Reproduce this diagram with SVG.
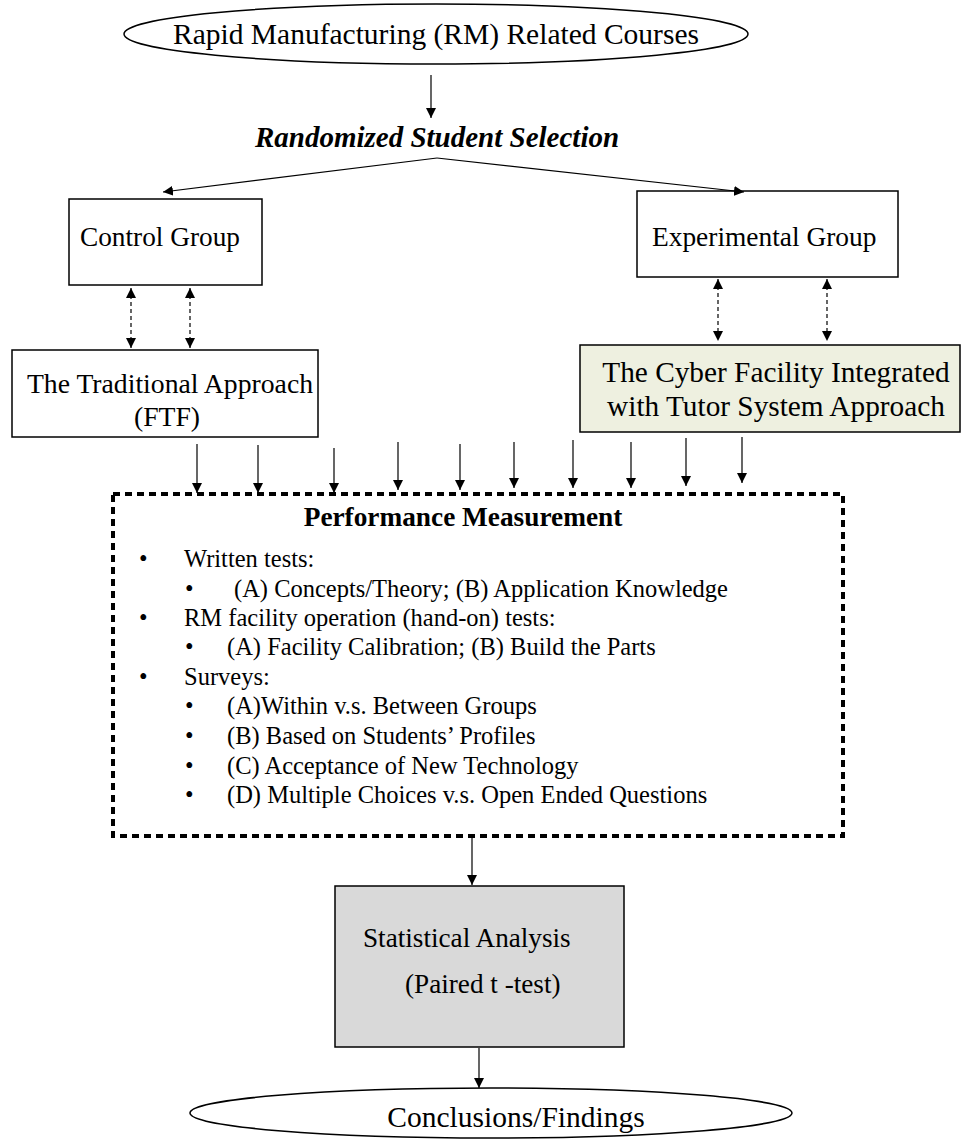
<svg xmlns="http://www.w3.org/2000/svg" width="961" height="1140" viewBox="0 0 961 1140">
<defs>
<style>
.t{font-family:"Liberation Serif","Times New Roman",serif;fill:#000}
.box{fill:#fff;stroke:#000;stroke-width:1.5}
.ln{stroke:#000;stroke-width:1.2;fill:none}
.dl{stroke:#000;stroke-width:1.2;fill:none;stroke-dasharray:4 3}
</style>
<marker id="ah" viewBox="0 0 10 10" refX="10" refY="5" markerWidth="10" markerHeight="10" markerUnits="userSpaceOnUse" orient="auto-start-reverse">
<path d="M0,0 L10,5 L0,10 z" fill="#000"/>
</marker>
</defs>
<rect width="961" height="1140" fill="#fff"/>
<g id="n-courses">
<ellipse cx="436" cy="34" rx="312" ry="30" class="box"/>
<text x="436" y="44" class="t" font-size="29.5" text-anchor="middle">Rapid Manufacturing (RM) Related Courses</text>
</g>
<g id="n-random">
<text x="437" y="147" class="t" font-size="29" font-weight="bold" font-style="italic" text-anchor="middle">Randomized Student Selection</text>
</g>
<g id="n-control">
<rect x="69" y="199" width="193" height="86" class="box"/>
<text x="80" y="246" class="t" font-size="27.3">Control Group</text>
</g>
<g id="n-experimental">
<rect x="637" y="191" width="261" height="86" class="box"/>
<text x="652" y="246" class="t" font-size="27.4">Experimental Group</text>
</g>
<g id="n-traditional">
<rect x="12" y="350" width="306" height="87" class="box"/>
<text x="170" y="393" class="t" font-size="27.7" text-anchor="middle">The Traditional Approach</text>
<text x="167" y="426" class="t" font-size="27.7" text-anchor="middle">(FTF)</text>
</g>
<g id="n-cyber">
<rect x="580" y="345" width="380" height="87" fill="#eef0e0" stroke="#000" stroke-width="1.5"/>
<text x="776" y="382" class="t" font-size="29.3" text-anchor="middle">The Cyber Facility Integrated</text>
<text x="776" y="416" class="t" font-size="29.3" text-anchor="middle">with Tutor System Approach</text>
</g>
<g id="n-performance">
<rect x="113" y="494" width="730" height="342" fill="none" stroke="#000" stroke-width="4" stroke-dasharray="7 5"/>
<text x="463" y="526" class="t" font-size="27.3" font-weight="bold" text-anchor="middle">Performance Measurement</text>
<g class="t" font-size="24.5">
<text x="139" y="567">•</text><text x="184" y="567">Written tests:</text>
<text x="185" y="597">•</text><text x="234" y="597">(A) Concepts/Theory; (B) Application Knowledge</text>
<text x="139" y="626">•</text><text x="184" y="626">RM facility operation (hand-on) tests:</text>
<text x="185" y="655">•</text><text x="227" y="655">(A) Facility Calibration; (B) Build the Parts</text>
<text x="139" y="685">•</text><text x="184" y="685">Surveys:</text>
<text x="185" y="714">•</text><text x="227" y="714">(A)Within v.s. Between Groups</text>
<text x="185" y="744">•</text><text x="227" y="744">(B) Based on Students’ Profiles</text>
<text x="185" y="774">•</text><text x="227" y="774">(C) Acceptance of New Technology</text>
<text x="185" y="803">•</text><text x="227" y="803">(D) Multiple Choices v.s. Open Ended Questions</text>
</g>
</g>
<g id="n-statistical">
<rect x="335" y="886" width="289" height="161" fill="#d9d9d9" stroke="#000" stroke-width="1.5"/>
<text x="363" y="947" class="t" font-size="27.2">Statistical Analysis</text>
<text x="405" y="993" class="t" font-size="27.2">(Paired t -test)</text>
</g>
<g id="n-conclusions">
<ellipse cx="491" cy="1113" rx="301" ry="25" class="box"/>
<text x="516" y="1127" class="t" font-size="29.5" text-anchor="middle">Conclusions/Findings</text>
</g>
<g id="connectors">
<line x1="431" y1="75" x2="431" y2="118" class="ln" marker-end="url(#ah)"/>
<line x1="437" y1="158" x2="163" y2="192" class="ln" marker-end="url(#ah)"/>
<line x1="437" y1="158" x2="744" y2="192" class="ln" marker-end="url(#ah)"/>
<line x1="131" y1="288" x2="131" y2="348" class="dl" marker-start="url(#ah)" marker-end="url(#ah)"/>
<line x1="190" y1="288" x2="190" y2="348" class="dl" marker-start="url(#ah)" marker-end="url(#ah)"/>
<line x1="718" y1="279" x2="718" y2="341" class="dl" marker-start="url(#ah)" marker-end="url(#ah)"/>
<line x1="827" y1="279" x2="827" y2="341" class="dl" marker-start="url(#ah)" marker-end="url(#ah)"/>
<line x1="197" y1="444" x2="197" y2="493" class="ln" marker-end="url(#ah)"/>
<line x1="258" y1="445" x2="258" y2="493" class="ln" marker-end="url(#ah)"/>
<line x1="334" y1="448" x2="334" y2="493" class="ln" marker-end="url(#ah)"/>
<line x1="398" y1="442" x2="398" y2="490" class="ln" marker-end="url(#ah)"/>
<line x1="460" y1="444" x2="460" y2="490" class="ln" marker-end="url(#ah)"/>
<line x1="514" y1="442" x2="514" y2="488" class="ln" marker-end="url(#ah)"/>
<line x1="573" y1="440" x2="573" y2="488" class="ln" marker-end="url(#ah)"/>
<line x1="631" y1="442" x2="631" y2="488" class="ln" marker-end="url(#ah)"/>
<line x1="686" y1="438" x2="686" y2="486" class="ln" marker-end="url(#ah)"/>
<line x1="742" y1="437" x2="742" y2="483" class="ln" marker-end="url(#ah)"/>
<line x1="472" y1="838" x2="472" y2="885" class="ln" marker-end="url(#ah)"/>
<line x1="479" y1="1048" x2="479" y2="1088" class="ln" marker-end="url(#ah)"/>
</g>
</svg>
